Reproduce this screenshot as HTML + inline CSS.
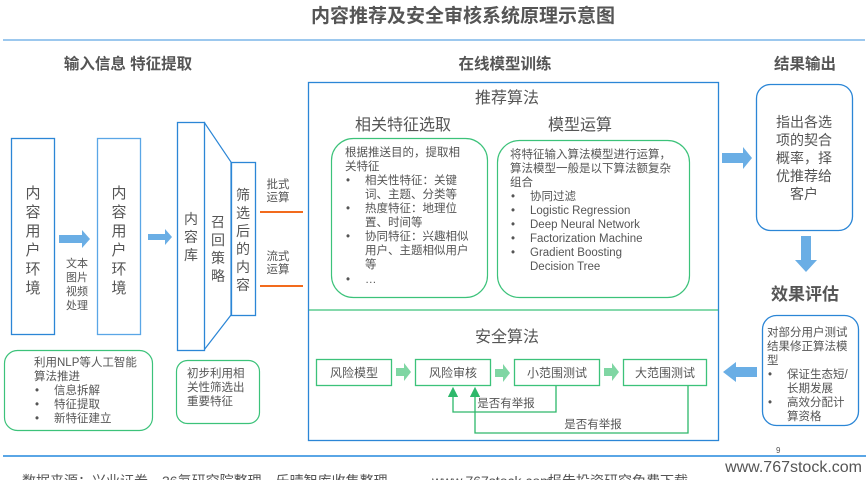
<!DOCTYPE html>
<html><head><meta charset="utf-8"><style>
html,body{margin:0;padding:0;background:#fff;width:868px;height:480px;overflow:hidden}
svg{display:block;font-family:"Liberation Sans","Noto Sans CJK SC",sans-serif}
text{fill:#555}
</style></head><body>
<svg width="868" height="480" viewBox="0 0 868 480" xmlns="http://www.w3.org/2000/svg">
<defs>
<marker id="ga" markerWidth="8" markerHeight="8" refX="4" refY="4" orient="auto"><path d="M0,0 L8,4 L0,8 z" fill="#2db86a"/></marker>
</defs>
<text x="463" y="22" font-size="19" font-weight="bold" text-anchor="middle" fill="#555">内容推荐及安全审核系统原理示意图</text>
<line x1="3" y1="40" x2="865" y2="40" stroke="#9cc8ee" stroke-width="2"/>
<text x="128" y="69" font-size="15.5" font-weight="bold" text-anchor="middle">输入信息 特征提取</text>
<text x="505" y="69" font-size="15.5" font-weight="bold" text-anchor="middle">在线模型训练</text>
<text x="805" y="69" font-size="15.5" font-weight="bold" text-anchor="middle">结果输出</text>

<rect x="11.5" y="138.5" width="43" height="196" fill="#fff" stroke="#2b86d6" stroke-width="1.3"/>
<text font-size="15" text-anchor="middle"><tspan x="33" y="198">内</tspan><tspan x="33" y="217">容</tspan><tspan x="33" y="236">用</tspan><tspan x="33" y="255">户</tspan><tspan x="33" y="274">环</tspan><tspan x="33" y="293">境</tspan></text>
<rect x="97.5" y="138.5" width="43" height="196" fill="#fff" stroke="#5aa6e6" stroke-width="1.3"/>
<text font-size="15" text-anchor="middle"><tspan x="119" y="198">内</tspan><tspan x="119" y="217">容</tspan><tspan x="119" y="236">用</tspan><tspan x="119" y="255">户</tspan><tspan x="119" y="274">环</tspan><tspan x="119" y="293">境</tspan></text>
<path d="M59,235 L82,235 L82,230 L90,239 L82,248 L82,243 L59,243 z" fill="#6aaee5"/>
<text font-size="11" text-anchor="middle"><tspan x="77" y="267">文本</tspan><tspan x="77" y="281">图片</tspan><tspan x="77" y="295">视频</tspan><tspan x="77" y="309">处理</tspan></text>
<path d="M148,234 L165,234 L165,229 L172,237 L165,245 L165,240 L148,240 z" fill="#6aaee5"/>

<path d="M204,122 L231,162 L231,315 L204,350" fill="none" stroke="#2b86d6" stroke-width="1.2"/>
<rect x="177.5" y="122.5" width="27" height="228" fill="#fff" stroke="#2b86d6" stroke-width="1.3"/>
<text font-size="14" text-anchor="middle"><tspan x="191" y="224">内</tspan><tspan x="191" y="242">容</tspan><tspan x="191" y="260">库</tspan></text>
<text font-size="14" text-anchor="middle"><tspan x="218" y="227">召</tspan><tspan x="218" y="245">回</tspan><tspan x="218" y="263">策</tspan><tspan x="218" y="281">略</tspan></text>
<rect x="231.5" y="162.5" width="24" height="153" fill="#fff" stroke="#2b86d6" stroke-width="1.3"/>
<text font-size="14" text-anchor="middle"><tspan x="243" y="200">筛</tspan><tspan x="243" y="218">选</tspan><tspan x="243" y="236">后</tspan><tspan x="243" y="254">的</tspan><tspan x="243" y="272">内</tspan><tspan x="243" y="290">容</tspan></text>
<text font-size="11.5" text-anchor="middle"><tspan x="278" y="188">批式</tspan><tspan x="278" y="201">运算</tspan><tspan x="278" y="260">流式</tspan><tspan x="278" y="273">运算</tspan></text>
<line x1="260" y1="212" x2="303" y2="212" stroke="#f26b1d" stroke-width="2"/>
<line x1="260" y1="286" x2="303" y2="286" stroke="#f26b1d" stroke-width="2"/>

<rect x="4.5" y="350.5" width="148" height="80" rx="13" fill="#fff" stroke="#3cc27a" stroke-width="1.2"/>
<text font-size="11.5"><tspan x="34" y="366">利用NLP等人工智能</tspan><tspan x="34" y="380">算法推进</tspan><tspan x="35" y="394">•</tspan><tspan x="54" y="394">信息拆解</tspan><tspan x="35" y="408">•</tspan><tspan x="54" y="408">特征提取</tspan><tspan x="35" y="422">•</tspan><tspan x="54" y="422">新特征建立</tspan></text>
<rect x="176.5" y="360.5" width="83" height="63" rx="11" fill="#fff" stroke="#3cc27a" stroke-width="1.2"/>
<text font-size="11.5"><tspan x="187" y="377">初步利用相</tspan><tspan x="187" y="391">关性筛选出</tspan><tspan x="187" y="405">重要特征</tspan></text>

<rect x="308.5" y="82.5" width="410" height="358" fill="#fff" stroke="#2b86d6" stroke-width="1.3"/>
<line x1="309" y1="310" x2="718" y2="310" stroke="#3cc27a" stroke-width="1.2"/>
<text x="507" y="103" font-size="16" text-anchor="middle">推荐算法</text>
<text x="403" y="130" font-size="16" text-anchor="middle">相关特征选取</text>
<text x="580" y="130" font-size="16" text-anchor="middle">模型运算</text>
<rect x="331.5" y="138.5" width="156" height="159" rx="22" fill="#fff" stroke="#3cc27a" stroke-width="1.2"/>
<text font-size="11.5"><tspan x="345" y="156">根据推送目的，提取相</tspan><tspan x="345" y="170">关特征</tspan>
<tspan x="346" y="184">•</tspan><tspan x="365" y="184">相关性特征：关键</tspan><tspan x="365" y="198">词、主题、分类等</tspan>
<tspan x="346" y="212">•</tspan><tspan x="365" y="212">热度特征：地理位</tspan><tspan x="365" y="226">置、时间等</tspan>
<tspan x="346" y="240">•</tspan><tspan x="365" y="240">协同特征：兴趣相似</tspan><tspan x="365" y="254">用户、主题相似用户</tspan><tspan x="365" y="268">等</tspan>
<tspan x="346" y="283">•</tspan><tspan x="365" y="283">…</tspan></text>
<rect x="497.5" y="140.5" width="192" height="157" rx="22" fill="#fff" stroke="#3cc27a" stroke-width="1.2"/>
<text font-size="11.5"><tspan x="510" y="158">将特征输入算法模型进行运算，</tspan><tspan x="510" y="172">算法模型一般是以下算法额复杂</tspan><tspan x="510" y="186">组合</tspan>
<tspan x="511" y="200">•</tspan><tspan x="530" y="200">协同过滤</tspan>
<tspan x="511" y="214">•</tspan><tspan x="530" y="214">Logistic Regression</tspan>
<tspan x="511" y="228">•</tspan><tspan x="530" y="228">Deep Neural Network</tspan>
<tspan x="511" y="242">•</tspan><tspan x="530" y="242">Factorization Machine</tspan>
<tspan x="511" y="256">•</tspan><tspan x="530" y="256">Gradient Boosting</tspan>
<tspan x="530" y="270">Decision Tree</tspan></text>

<text x="507" y="342" font-size="16" text-anchor="middle">安全算法</text>
<g fill="#fff" stroke="#3cc27a" stroke-width="1.3">
<rect x="316.5" y="359.5" width="75" height="26"/>
<rect x="415.5" y="359.5" width="75" height="26"/>
<rect x="514.5" y="359.5" width="85" height="26"/>
<rect x="623.5" y="359.5" width="83" height="26"/>
</g>
<text font-size="12" text-anchor="middle"><tspan x="354" y="377">风险模型</tspan><tspan x="453" y="377">风险审核</tspan><tspan x="557" y="377">小范围测试</tspan><tspan x="665" y="377">大范围测试</tspan></text>
<g fill="#7fd6a3">
<path d="M396,368 L404,368 L404,363 L411,372 L404,381 L404,376 L396,376 z"/>
<path d="M495,369 L503,369 L503,364 L510,373 L503,382 L503,377 L495,377 z"/>
<path d="M604,368 L612,368 L612,363 L619,372 L612,381 L612,376 L604,376 z"/>
</g>
<path d="M556,386 L556,412 L453,412 L453,392" fill="none" stroke="#2db86a" stroke-width="1.3" marker-end="url(#ga)"/>
<path d="M688,386 L688,433 L475,433 L475,392" fill="none" stroke="#2db86a" stroke-width="1.3" marker-end="url(#ga)"/>
<text x="506" y="407" font-size="11.5" text-anchor="middle">是否有举报</text>
<text x="593" y="428" font-size="11.5" text-anchor="middle">是否有举报</text>

<path d="M722,153 L743,153 L743,147 L752,158 L743,169 L743,163 L722,163 z" fill="#6aaee5"/>
<rect x="756.5" y="84.5" width="96" height="146" rx="14" fill="#fff" stroke="#2b86d6" stroke-width="1.3"/>
<text font-size="14" text-anchor="middle"><tspan x="804" y="127">指出各选</tspan><tspan x="804" y="145">项的契合</tspan><tspan x="804" y="163">概率，择</tspan><tspan x="804" y="181">优推荐给</tspan><tspan x="804" y="199">客户</tspan></text>
<path d="M801,236 L811,236 L811,260 L817,260 L806,272 L795,260 L801,260 z" fill="#6aaee5"/>
<text x="805" y="300" font-size="17" font-weight="bold" text-anchor="middle">效果评估</text>
<rect x="762.5" y="315.5" width="96" height="110" rx="14" fill="#fff" stroke="#2b86d6" stroke-width="1.3"/>
<text font-size="11.5"><tspan x="767" y="336">对部分用户测试</tspan><tspan x="767" y="350">结果修正算法模</tspan><tspan x="767" y="364">型</tspan>
<tspan x="768" y="378">•</tspan><tspan x="787" y="378">保证生态短/</tspan><tspan x="787" y="392">长期发展</tspan>
<tspan x="768" y="406">•</tspan><tspan x="787" y="406">高效分配计</tspan><tspan x="787" y="420">算资格</tspan></text>
<path d="M757,367 L736,367 L736,362 L723,372 L736,382 L736,377 L757,377 z" fill="#6aaee5"/>

<line x1="3" y1="456" x2="866" y2="456" stroke="#5aa6e6" stroke-width="2"/>
<text x="776" y="453" font-size="8" fill="#aaa">9</text>
<text x="862" y="472" font-size="16" text-anchor="end" fill="#666">www.767stock.com</text>
<text x="22" y="486" font-size="14" fill="#333">数据来源：兴业证券，36氪研究院整理，乐晴智库收集整理</text>
<text x="432" y="486" font-size="14" fill="#e02020">www.767stock.com</text>
<text x="548" y="486" font-size="14" fill="#333">报告投资研究免费下载</text>
</svg>
</body></html>
